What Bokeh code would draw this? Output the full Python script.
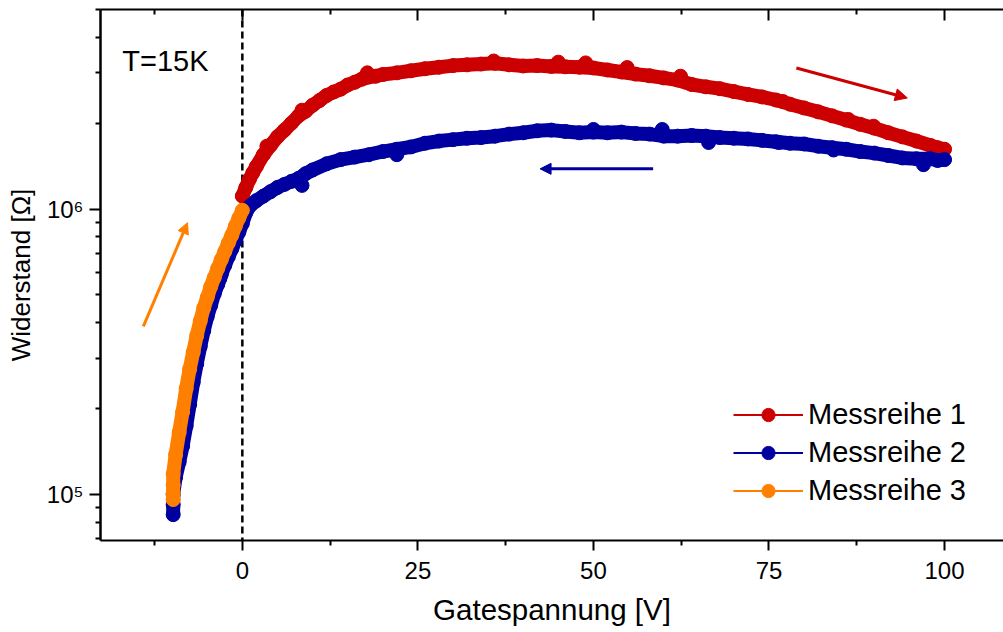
from bokeh.plotting import figure
from bokeh.models import (Range1d, FixedTicker, LinearAxis, Span, Arrow, NormalHead,
                          Legend, LegendItem, Label, CustomLabelingPolicy)
from bokeh.embed import file_html
from bokeh.resources import INLINE

# ---------------- data ----------------
# Messreihe 1 : sweep 0 V -> 100 V, resistance in MOhm
v1 = [0, 0.5, 1, 1.5, 2, 3, 4, 5, 6, 7, 8, 9, 10, 11, 12, 13, 14, 15, 16, 17, 18, 19, 20,
      22, 24, 26, 28, 30, 32, 34, 36, 38, 40, 42, 44, 46, 48, 50, 52, 54, 56, 58, 60,
      62, 64, 66, 68, 70, 72, 74, 76, 78, 80, 82, 84, 86, 88, 90, 92, 94, 96, 98, 99, 100]
r1 = [1.11, 1.19, 1.27, 1.34, 1.41, 1.55, 1.67, 1.79, 1.89, 2.00, 2.12, 2.20, 2.31, 2.40,
      2.50, 2.57, 2.63, 2.72, 2.78, 2.85, 2.90, 2.92, 2.96,
      3.00, 3.05, 3.10, 3.14, 3.18, 3.20, 3.22, 3.24, 3.20, 3.17, 3.18, 3.16, 3.15, 3.14,
      3.12, 3.07, 3.02, 2.97, 2.93, 2.88, 2.83, 2.73, 2.68, 2.64, 2.58, 2.52, 2.47, 2.41,
      2.33, 2.26, 2.19, 2.12, 2.05, 1.98, 1.92, 1.85, 1.79, 1.73, 1.67, 1.64, 1.62]
# single scattered points of Messreihe 1 that stick out of the band
v1_out = [3.5, 8.5, 17.8, 35.8, 45.0, 48.9, 54.8, 62.4, 77.0, 86.3, 89.9]
r1_out = [1.66, 2.22, 3.00, 3.30, 3.27, 3.25, 3.13, 2.92, 2.38, 2.06, 1.95]

# Messreihe 2 : sweep 100 V -> -10 V
v2 = [100, 99, 98, 96, 94, 92, 90, 88, 86, 84, 82, 80, 78, 76, 74, 72, 70, 68, 66, 64, 62,
      60, 58, 56, 54, 52, 50, 48, 46, 44, 42, 40, 38, 36, 34, 32, 30, 28, 26, 24, 22, 20,
      18, 16, 14, 12, 10, 9, 8, 7, 6, 5, 4, 3, 2, 1, 0.5, 0, -0.5, -1, -1.5, -2, -2.5, -3,
      -3.5, -4, -4.5, -5, -5.5, -6, -6.5, -7, -7.5, -8, -8.5, -9, -9.5, -9.85, -9.85, -9.85]
r2 = [1.49, 1.48, 1.50, 1.50, 1.51, 1.54, 1.57, 1.59, 1.62, 1.64, 1.66, 1.69, 1.70, 1.72,
      1.74, 1.76, 1.77, 1.78, 1.80, 1.81, 1.80, 1.80, 1.83, 1.84, 1.86, 1.85, 1.86, 1.85,
      1.87, 1.89, 1.88, 1.85, 1.83, 1.80, 1.78, 1.77, 1.75, 1.73, 1.70, 1.65, 1.62, 1.59,
      1.55, 1.52, 1.49, 1.44, 1.37, 1.33, 1.28, 1.25, 1.22, 1.19, 1.15, 1.11, 1.07, 1.02,
      0.97, 0.89, 0.83, 0.775, 0.725, 0.68, 0.635, 0.59, 0.545, 0.505, 0.46, 0.42, 0.375,
      0.33, 0.287, 0.247, 0.207, 0.174, 0.148, 0.13, 0.115, 0.100, 0.092, 0.085]
v2_out = [97.0, 84.2, 76.4, 66.4, 59.8, 50.0, 22.0, 8.5, -3.2, -5.6]
r2_out = [1.43, 1.61, 1.71, 1.71, 1.90, 1.90, 1.55, 1.21, 0.57, 0.38]

# Messreihe 3 : sweep -10 V -> 0 V
v3 = [-9.85, -9.85, -9.85, -9.85, -9.5, -9.0, -8.5, -8.0, -7.5, -7.0, -6.5, -6.0, -5.5,
      -5.0, -4.5, -4.0, -3.5, -3.0, -2.5, -2.0, -1.5, -1.0, -0.5, 0.0]
r3 = [0.096, 0.101, 0.108, 0.118, 0.138, 0.165, 0.195, 0.235, 0.275, 0.315, 0.36, 0.405,
      0.45, 0.49, 0.535, 0.575, 0.62, 0.665, 0.71, 0.76, 0.81, 0.87, 0.93, 0.99]
v3_out = []
r3_out = []

series_names = ["Messreihe 1", "Messreihe 2", "Messreihe 3"]
series_colors = ["#CC0000", "#0000A0", "#FF8000"]

x_ticks = [0, 25, 50, 75, 100]
x_minor = [-12.5, 12.5, 37.5, 62.5, 87.5]
y_ticks = [1e5, 1e6]
y_tick_labels = ["10\u2075", "10\u2076"]
y_minor = [k * 10 ** n for n in (4, 5, 6) for k in range(2, 10)]

# ---------------- figure ----------------
FONT = "Liberation Sans"
p = figure(width=1003, height=632, y_axis_type="log",
           x_range=Range1d(-20.2, 108.4), y_range=Range1d(6.9e4, 5.0e6),
           output_backend="svg", toolbar_location=None,
           min_border_left=100, min_border_right=0, min_border_top=9, min_border_bottom=92)
p.grid.visible = False
p.outline_line_color = None
p.background_fill_color = "white"

# bottom axis
xa = p.xaxis[0]
xa.ticker = FixedTicker(ticks=x_ticks, minor_ticks=x_minor)
xa.axis_label = "Gatespannung [V]"
xa.axis_label_text_font = FONT
xa.axis_label_text_font_size = "29.5px"
xa.axis_label_text_font_style = "normal"
xa.axis_label_text_color = "black"
xa.axis_label_standoff = 11
xa.major_label_text_font = FONT
xa.major_label_text_font_size = "24px"
xa.major_label_text_color = "black"
xa.major_label_standoff = 11
xa.axis_line_width = 2
xa.major_tick_line_width = 2
xa.minor_tick_line_width = 2
xa.major_tick_in = 0
xa.major_tick_out = 10
xa.minor_tick_in = 0
xa.minor_tick_out = 5

# left axis
ya = p.yaxis[0]
ya.ticker = FixedTicker(ticks=y_ticks, minor_ticks=y_minor)
ya.major_label_overrides = {t: lab for t, lab in zip(y_ticks, y_tick_labels)}
ya.axis_label = "Widerstand [\u03A9]"
ya.axis_label_text_font = FONT
ya.axis_label_text_font_size = "26px"
ya.axis_label_text_font_style = "normal"
ya.axis_label_text_color = "black"
ya.axis_label_standoff = 8
ya.major_label_text_font = FONT
ya.major_label_text_font_size = "24px"
ya.major_label_text_color = "black"
ya.major_label_standoff = 6
ya.axis_line_width = 2.5
ya.major_tick_line_width = 2
ya.minor_tick_line_width = 2
ya.major_tick_in = 0
ya.major_tick_out = 11
ya.minor_tick_in = 0
ya.minor_tick_out = 5

# top axis (ticks inward, no labels)
no_labels = CustomLabelingPolicy(code="""
try { for (let i = 0; i < indices.size; i++) { indices.unset(i) } } catch (e) {}
return indices
""")
top = LinearAxis(ticker=FixedTicker(ticks=x_ticks, minor_ticks=x_minor),
                 major_label_policy=no_labels,
                 major_label_text_font_size="0px", major_label_standoff=0,
                 axis_line_width=2, major_tick_line_width=2, minor_tick_line_width=2,
                 major_tick_in=11, major_tick_out=0, minor_tick_in=5, minor_tick_out=0)
p.add_layout(top, "above")

# dashed line at 0 V
p.add_layout(Span(location=0, dimension="height", line_color="black",
                  line_width=2.5, line_dash="7 4", level="underlay"))

# legend proxies (thin line + dot); drawn first, hidden under the data
items = []
for vv, rr, name, col in zip([v1, v2, v3], [r1, r2, r3], series_names, series_colors):
    lr = p.line(vv[:1], [rr[0] * 1e6], line_color=col, line_width=2)
    sr = p.scatter(vv[:1], [rr[0] * 1e6], marker="circle", size=13,
                   fill_color=col, line_color=col)
    items.append(LegendItem(label=name, renderers=[lr, sr]))

# data
for vv, rr, vo, ro, col in zip([v1, v2, v3], [r1, r2, r3], [v1_out, v2_out, v3_out],
                               [r1_out, r2_out, r3_out], series_colors):
    ohm = [r * 1e6 for r in rr]
    p.line(vv, ohm, line_color=col, line_width=14, line_join="round", line_cap="round")
    p.scatter(vv, ohm, marker="circle", size=14, fill_color=col, line_color=col)
    if vo:
        p.scatter(vo, [r * 1e6 for r in ro], marker="circle", size=14,
                  fill_color=col, line_color=col)

legend = Legend(items=items, location=(633, 33), border_line_color=None,
                background_fill_alpha=0, padding=0, margin=0, spacing=5,
                glyph_width=70, glyph_height=33, label_height=33, label_standoff=5,
                label_text_font=FONT, label_text_font_size="29px", label_text_color="black")
p.add_layout(legend)

# arrows
p.add_layout(Arrow(end=NormalHead(size=12, fill_color="#CC0000", line_color="#CC0000"),
                   x_start=78.9, y_start=3.12e6, x_end=94.7, y_end=2.45e6,
                   line_color="#CC0000", line_width=3))
p.add_layout(Arrow(end=NormalHead(size=11, fill_color="#0000A0", line_color="#0000A0"),
                   x_start=58.5, y_start=1.383e6, x_end=42.4, y_end=1.383e6,
                   line_color="#0000A0", line_width=3))
p.add_layout(Arrow(end=NormalHead(size=11, fill_color="#FF8000", line_color="#FF8000"),
                   x_start=-14.1, y_start=3.88e5, x_end=-7.8, y_end=8.96e5,
                   line_color="#FF8000", line_width=3))

# temperature label
p.add_layout(Label(x=-17.1, y=3.30e6, text="T=15K", text_font=FONT, text_color="black",
                   text_font_size="29px", text_baseline="alphabetic", text_align="left"))

open("out.html", "w").write(file_html(p, INLINE))
